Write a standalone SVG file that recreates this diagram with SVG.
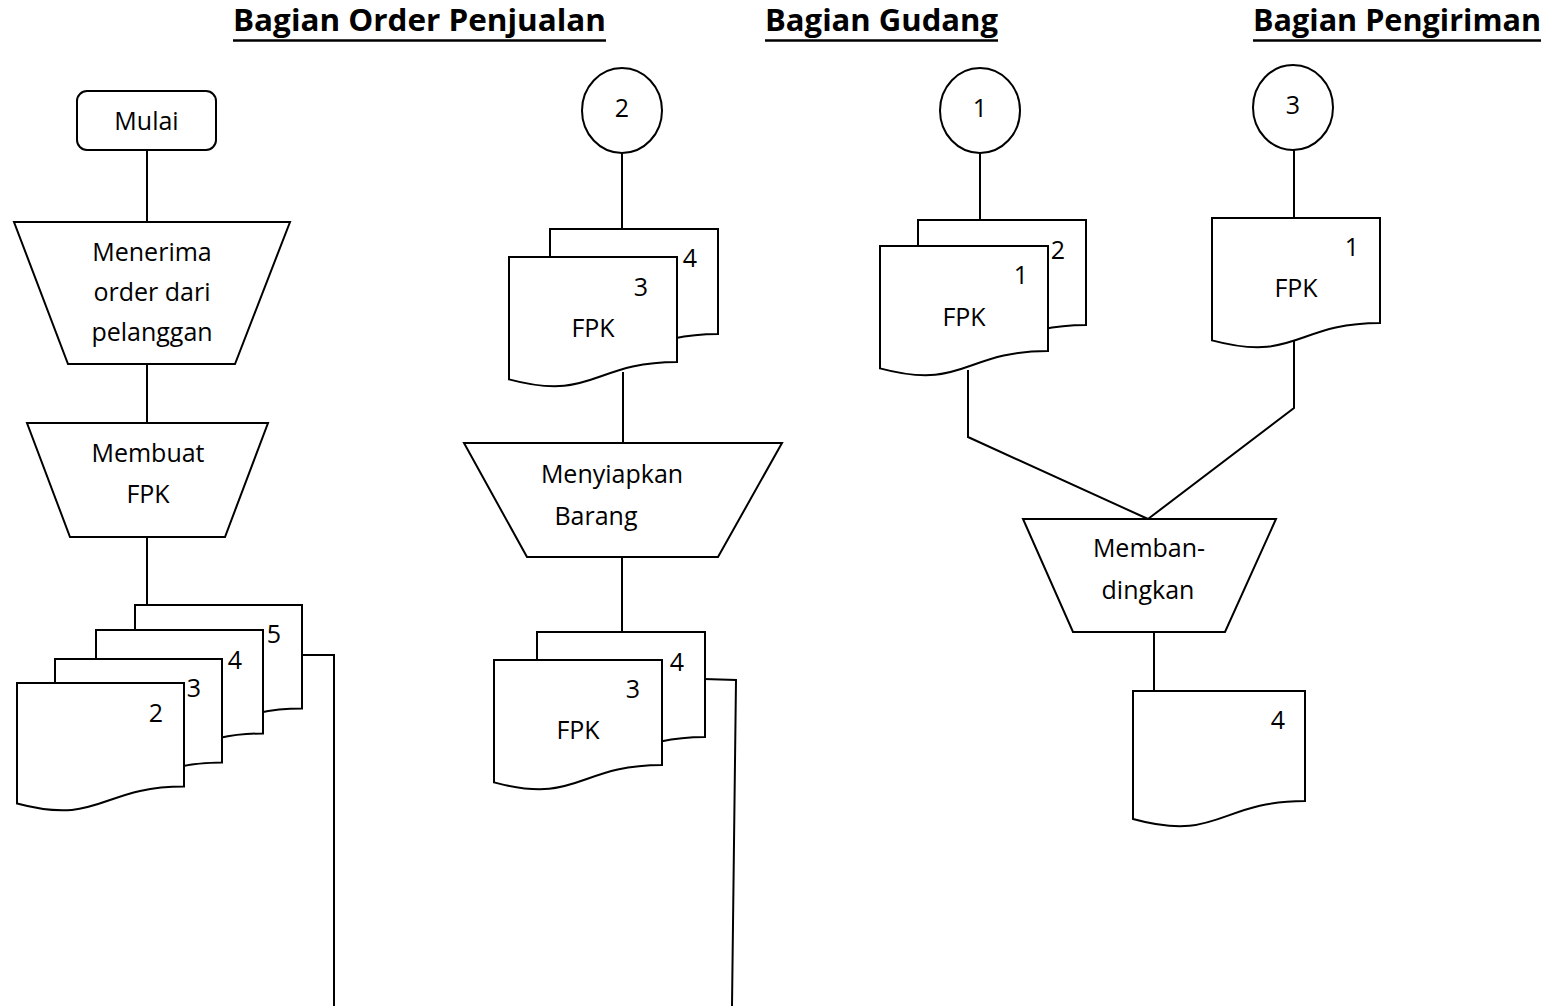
<svg xmlns="http://www.w3.org/2000/svg" xmlns:xlink="http://www.w3.org/1999/xlink" width="1547" height="1006" viewBox="0 0 1547 1006">
  <style>
    .shape { fill: #ffffff; stroke: #000000; stroke-width: 2; stroke-linejoin: miter; }
    .link { fill: none; stroke: #000000; stroke-width: 2; }
    .label { font-family: "Open Sans", "Noto Sans", "Liberation Sans", sans-serif; font-size: 25px; fill: #000000; text-anchor: middle; }
    .head { font-family: "Open Sans", "Noto Sans", "Liberation Sans", sans-serif; font-size: 31px; font-weight: bold; fill: #000000; }
    .rule { stroke: #000000; stroke-width: 2.6; }
  </style>
  <defs>
    <!-- document symbols (wavy bottom) at three sizes -->
    <path id="docA" d="M0,0 H167 V103.5 C83.5,103.5 83.5,142.8 0,120.5 Z"/>
    <path id="docB" d="M0,0 H168 V105 C84,105 84,145 0,122.4 Z"/>
    <path id="docC" d="M0,0 H172 V110 C86,110 86,151.7 0,128 Z"/>
  </defs>
  <rect x="0" y="0" width="1547" height="1006" fill="#ffffff"/>

  <!-- column headings -->
  <g id="headings">
    <text class="head" x="233" y="31" textLength="373" lengthAdjust="spacingAndGlyphs">Bagian Order Penjualan</text>
    <line class="rule" x1="233" y1="40.5" x2="606" y2="40.5"/>
    <text class="head" x="765" y="31" textLength="233" lengthAdjust="spacingAndGlyphs">Bagian Gudang</text>
    <line class="rule" x1="765" y1="40.5" x2="998" y2="40.5"/>
    <text class="head" x="1253" y="31" textLength="288" lengthAdjust="spacingAndGlyphs">Bagian Pengiriman</text>
    <line class="rule" x1="1253" y1="40.5" x2="1541" y2="40.5"/>
  </g>

  <!-- connectors -->
  <g id="connectors">
    <polyline class="link" points="147,150 147,222"/>
    <polyline class="link" points="147,364 147,423"/>
    <polyline class="link" points="147,537 147,605"/>
    <polyline class="link" points="303,655 334,655 334,1006"/>
    <polyline class="link" points="622,153 622,229"/>
    <polyline class="link" points="623,372 623,443"/>
    <polyline class="link" points="622,557 622,632"/>
    <polyline class="link" points="704,679 736,680 732,1006"/>
    <polyline class="link" points="980,153 980,220"/>
    <polyline class="link" points="968,370 968,437 1148,519"/>
    <polyline class="link" points="1294,150 1294,218"/>
    <polyline class="link" points="1294,340 1294,408 1148,519"/>
    <polyline class="link" points="1154,632 1154,691"/>
  </g>

  <!-- Bagian Order Penjualan -->
  <g id="mulai">
    <rect class="shape" x="77" y="91" width="139" height="59" rx="10" ry="10"/>
    <text class="label" x="146.5" y="130">Mulai</text>
  </g>
  <g id="menerima-order">
    <polygon class="shape" points="14,222 290,222 235,364 68,364"/>
    <text class="label" x="152" y="261">Menerima</text>
    <text class="label" x="152" y="301">order dari</text>
    <text class="label" x="152" y="341">pelanggan</text>
  </g>
  <g id="membuat-fpk">
    <polygon class="shape" points="27,423 268,423 225,537 70,537"/>
    <text class="label" x="148" y="462">Membuat</text>
    <text class="label" x="148" y="503">FPK</text>
  </g>
  <g id="fpk-copies">
    <use class="shape" xlink:href="#docA" x="135" y="605"/>
    <use class="shape" xlink:href="#docA" x="96" y="630"/>
    <use class="shape" xlink:href="#docA" x="55" y="659"/>
    <use class="shape" xlink:href="#docA" x="17" y="683"/>
    <text class="label" x="274" y="643">5</text>
    <text class="label" x="235" y="669">4</text>
    <text class="label" x="194" y="697">3</text>
    <text class="label" x="156" y="722">2</text>
  </g>

  <!-- Bagian Gudang -->
  <g id="connector-2">
    <ellipse class="shape" cx="622" cy="110.5" rx="40" ry="42.5"/>
    <text class="label" x="622" y="117">2</text>
  </g>
  <g id="fpk-3-4-in">
    <use class="shape" xlink:href="#docB" x="550" y="229"/>
    <use class="shape" xlink:href="#docB" x="509" y="257"/>
    <text class="label" x="690" y="267">4</text>
    <text class="label" x="641" y="296">3</text>
    <text class="label" x="593" y="337">FPK</text>
  </g>
  <g id="menyiapkan-barang">
    <polygon class="shape" points="464,443 782,443 718,557 527,557"/>
    <text class="label" x="612" y="483">Menyiapkan</text>
    <text class="label" x="596" y="525">Barang</text>
  </g>
  <g id="fpk-3-4-out">
    <use class="shape" xlink:href="#docB" x="537" y="632"/>
    <use class="shape" xlink:href="#docB" x="494" y="660"/>
    <text class="label" x="677" y="671">4</text>
    <text class="label" x="633" y="698">3</text>
    <text class="label" x="578" y="739">FPK</text>
  </g>

  <!-- Bagian Pengiriman -->
  <g id="connector-1">
    <ellipse class="shape" cx="980" cy="110.5" rx="40" ry="42.5"/>
    <text class="label" x="980" y="117">1</text>
  </g>
  <g id="fpk-1-2">
    <use class="shape" xlink:href="#docB" x="918" y="220"/>
    <use class="shape" xlink:href="#docB" x="880" y="246"/>
    <text class="label" x="1058" y="259">2</text>
    <text class="label" x="1021" y="284">1</text>
    <text class="label" x="964" y="326">FPK</text>
  </g>
  <g id="connector-3">
    <ellipse class="shape" cx="1293" cy="107.5" rx="40" ry="42.5"/>
    <text class="label" x="1293" y="114">3</text>
  </g>
  <g id="fpk-1">
    <use class="shape" xlink:href="#docB" x="1212" y="218"/>
    <text class="label" x="1352" y="256">1</text>
    <text class="label" x="1296" y="297">FPK</text>
  </g>
  <g id="membandingkan">
    <polygon class="shape" points="1023,519 1276,519 1225,632 1073,632"/>
    <text class="label" x="1149" y="557">Memban-</text>
    <text class="label" x="1148" y="599">dingkan</text>
  </g>
  <g id="fpk-4">
    <use class="shape" xlink:href="#docC" x="1133" y="691"/>
    <text class="label" x="1278" y="729">4</text>
  </g>
</svg>
